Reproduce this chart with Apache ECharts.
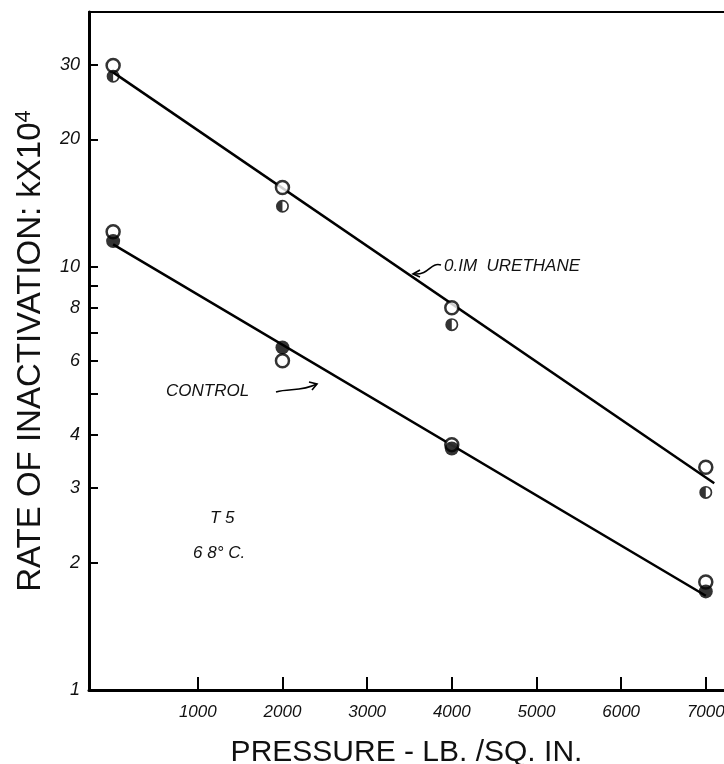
<!DOCTYPE html>
<html>
<head>
<meta charset="utf-8">
<title>Rate of inactivation vs pressure</title>
<script src="https://cdn.jsdelivr.net/npm/echarts@6/dist/echarts.min.js"></script>
<style>
  html, body { margin: 0; padding: 0; background: #fff; }
  #main { width: 724px; height: 764px; }
</style>
</head>
<body>
<div id="main"></div>
<script type="text/javascript">
    // pressures where the points were measured (lb/sq.in.)
    var pressures = [0, 2000, 4000, 7000];
    // 0.1M urethane: open circles and half filled circles
    var urethaneOpen = [29.9, 15.4, 8.0, 3.36];
    var urethaneHalf = [28.2, 13.9, 7.3, 2.93];
    // control: open circles and filled circles
    var controlOpen = [12.1, 6.0, 3.8, 1.80];
    var controlFilled = [11.5, 6.45, 3.72, 1.71];
    // fitted straight lines (end points)
    var urethaneFit = [[0, 28.8], [7100, 3.08]];
    var controlFit = [[0, 11.3], [7000, 1.67]];
    // axis ticks and labels
    var xTicks = [1000, 2000, 3000, 4000, 5000, 6000, 7000];
    var yTicks = [2, 3, 4, 5, 6, 7, 8, 9, 10, 20, 30];
    var yLabels = [1, 2, 3, 4, 6, 8, 10, 20, 30];

    function pairs(vals) {
        return pressures.map(function (p, i) { return [p, vals[i]]; });
    }

    // left half filled, right half a ring
    var halfSymbol = 'path://M10,0 A10,10 0 0 0 10,20 Z M10,0 A10,10 0 0 1 10,20 L10,17.4 A7.4,7.4 0 0 0 10,2.6 Z';

    var handFont = { fontStyle: 'italic', fontFamily: 'Liberation Sans', fill: '#111', fontSize: 17 };
    function note(text, left, top) {
        return { type: 'text', left: left, top: top, style: Object.assign({ text: text }, handFont) };
    }

    var myChart = echarts.init(document.getElementById('main'));
    var option = {
        backgroundColor: '#fff',
        animation: false,
        grid: { left: 89, right: 0, top: 12, bottom: 74, outerBoundsMode: 'none', containLabel: false },
        xAxis: [
            {
                type: 'value',
                min: -285,
                max: 7215,
                splitLine: { show: false },
                axisLine: { onZero: false, lineStyle: { color: '#000', width: 3 } },
                axisTick: { customValues: xTicks, inside: true, length: 13, lineStyle: { color: '#000', width: 2 } },
                axisLabel: {
                    customValues: xTicks, margin: 14, fontSize: 17,
                    fontStyle: 'italic', fontFamily: 'Liberation Sans', color: '#111',
                    formatter: function (v) { return String(v); }
                },
                name: 'PRESSURE - LB. /SQ. IN.',
                nameLocation: 'middle',
                nameGap: 48,
                nameTextStyle: { fontSize: 30, fontFamily: 'Liberation Sans', color: '#111' }
            },
            {
                type: 'value',
                position: 'top',
                min: -285,
                max: 7215,
                splitLine: { show: false },
                axisLine: { onZero: false, lineStyle: { color: '#000', width: 2 } },
                axisTick: { show: false },
                axisLabel: { show: false }
            }
        ],
        yAxis: {
            type: 'log',
            logBase: 10,
            min: 1,
            max: 40,
            splitLine: { show: false },
            axisLine: { show: true, onZero: false, lineStyle: { color: '#000', width: 3 } },
            axisTick: { customValues: yTicks, inside: true, length: 9, lineStyle: { color: '#000', width: 2 } },
            axisLabel: {
                customValues: yLabels, margin: 9, fontSize: 18,
                fontStyle: 'italic', fontFamily: 'Liberation Sans', color: '#111',
                formatter: function (v) { return String(v); }
            },
            name: '{a|RATE OF INACTIVATION: kX10}{b|4}',
            nameLocation: 'middle',
            nameGap: 40,
            nameRotate: 90,
            nameTextStyle: {
                rich: {
                    a: { fontSize: 33, fontFamily: 'Liberation Sans', color: '#111' },
                    b: { fontSize: 22, fontFamily: 'Liberation Sans', color: '#111', verticalAlign: 'bottom', padding: [0, 0, 14, 0] }
                }
            }
        },
        series: [
            {
                name: 'urethane fit', type: 'line', data: urethaneFit, showSymbol: false, silent: true,
                lineStyle: { color: '#000', width: 2.5 }
            },
            {
                name: 'control fit', type: 'line', data: controlFit, showSymbol: false, silent: true,
                lineStyle: { color: '#000', width: 2.5 }
            },
            {
                name: 'urethane open', type: 'scatter', data: pairs(urethaneOpen), symbol: 'circle', symbolSize: 13,
                itemStyle: { color: '#fff', borderColor: '#000', borderWidth: 2.5 }, z: 3
            },
            {
                name: 'urethane half', type: 'scatter', data: pairs(urethaneHalf), symbol: halfSymbol, symbolSize: 13,
                itemStyle: { color: '#000' }, z: 3
            },
            {
                name: 'control open', type: 'scatter', data: pairs(controlOpen), symbol: 'circle', symbolSize: 13,
                itemStyle: { color: '#fff', borderColor: '#000', borderWidth: 2.5 }, z: 3
            },
            {
                name: 'control filled', type: 'scatter', data: pairs(controlFilled), symbol: 'circle', symbolSize: 14,
                itemStyle: { color: '#000' }, z: 4
            }
        ],
        graphic: [
            note('0.IM  URETHANE', 444, 258),
            note('CONTROL', 166, 383),
            note('T 5', 210, 510),
            note('6 8° C.', 193, 545),
            // curly arrow to the urethane line
            {
                type: 'bezierCurve',
                shape: { x1: 441, y1: 265, cpx1: 430, cpy1: 262, cpx2: 430, cpy2: 275, x2: 414, y2: 274 },
                style: { stroke: '#000', lineWidth: 1.6, fill: null }
            },
            {
                type: 'polyline',
                shape: { points: [[420, 270], [413, 274], [420, 277]] },
                style: { stroke: '#000', lineWidth: 1.6, fill: null }
            },
            // arrow to the control line
            {
                type: 'bezierCurve',
                shape: { x1: 276, y1: 392, cpx1: 290, cpy1: 388, cpx2: 300, cpy2: 392, x2: 317, y2: 384 },
                style: { stroke: '#000', lineWidth: 1.6, fill: null }
            },
            {
                type: 'polyline',
                shape: { points: [[309, 382], [317, 384], [312, 390]] },
                style: { stroke: '#000', lineWidth: 1.6, fill: null }
            }
        ]
    };
    myChart.setOption(option);
</script>
</body>
</html>
